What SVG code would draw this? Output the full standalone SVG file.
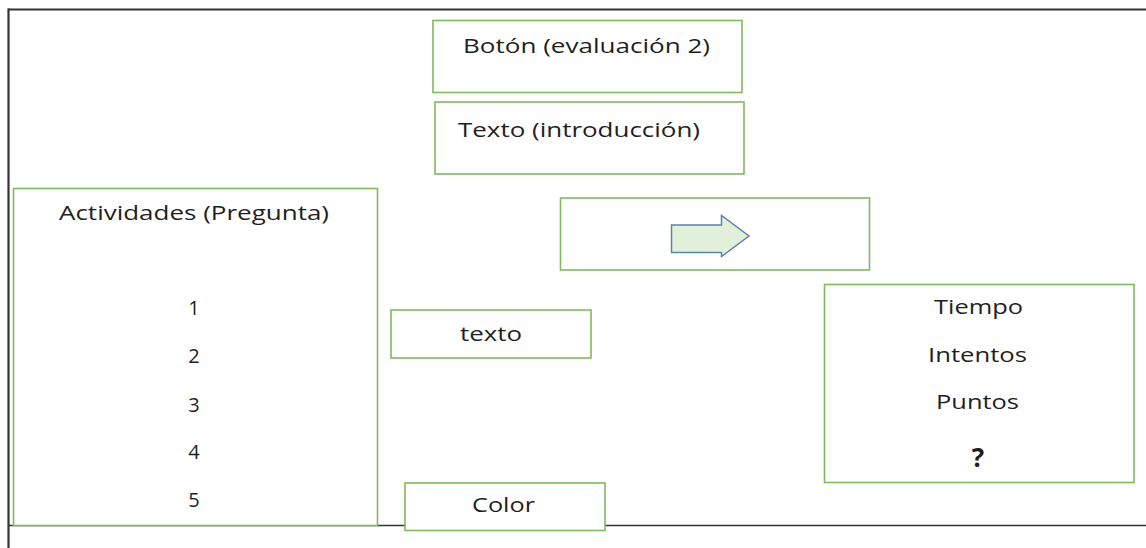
<svg xmlns="http://www.w3.org/2000/svg" width="1146" height="548" viewBox="0 0 1146 548">
  <style>
    .box { fill: #ffffff; stroke: #7fbb5c; stroke-width: 1.6; }
    .frame { stroke: #333333; fill: none; }
    .lbl { font-family: "Open Sans", "Liberation Sans", sans-serif; font-size: 20px; fill: #1f1f1f; text-anchor: middle; }
    .big { font-weight: bold; font-size: 26px; }
  </style>

  <rect x="0" y="0" width="1146" height="548" fill="#ffffff"/>

  <!-- page frame -->
  <g id="frame">
    <line class="frame" x1="8" y1="9.5" x2="1146" y2="9.5" stroke-width="2.2"/>
    <line class="frame" x1="8.5" y1="8.5" x2="8.5" y2="548" stroke-width="2.2"/>
    <line class="frame" x1="8" y1="525.5" x2="1146" y2="525.5" stroke-width="1.6"/>
  </g>

  <g id="boton">
    <rect class="box" x="433" y="20.5" width="309" height="72"/>
    <text class="lbl" x="586.5" y="53" textLength="247" lengthAdjust="spacingAndGlyphs">Botón (evaluación 2)</text>
  </g>

  <g id="introduccion">
    <rect class="box" x="435" y="102" width="309" height="72"/>
    <text class="lbl" x="579" y="137" textLength="242" lengthAdjust="spacingAndGlyphs">Texto (introducción)</text>
  </g>

  <g id="siguiente">
    <rect class="box" x="560.5" y="198" width="309" height="72"/>
    <polygon points="671.5,225 721.5,225 721.5,215.5 749,236 721.5,256.5 721.5,252.5 671.5,252.5" fill="#e2efda" stroke="#5f83a8" stroke-width="1.5" stroke-linejoin="miter"/>
  </g>

  <g id="actividades">
    <rect class="box" x="13.5" y="188.5" width="364" height="337"/>
    <text class="lbl" x="194" y="220" textLength="270" lengthAdjust="spacingAndGlyphs">Actividades (Pregunta)</text>
    <text class="lbl" x="194" y="315">1</text>
    <text class="lbl" x="194" y="363">2</text>
    <text class="lbl" x="194" y="411.5">3</text>
    <text class="lbl" x="194" y="459">4</text>
    <text class="lbl" x="194" y="507">5</text>
  </g>

  <g id="texto">
    <rect class="box" x="391" y="310" width="200" height="48"/>
    <text class="lbl" x="491" y="341" textLength="62" lengthAdjust="spacingAndGlyphs">texto</text>
  </g>

  <g id="color">
    <rect class="box" x="405" y="483" width="200" height="47.5"/>
    <text class="lbl" x="503.5" y="512" textLength="63" lengthAdjust="spacingAndGlyphs">Color</text>
  </g>

  <g id="marcador">
    <rect class="box" x="824.5" y="284.5" width="309.5" height="198"/>
    <text class="lbl" x="978.5" y="314" textLength="89" lengthAdjust="spacingAndGlyphs">Tiempo</text>
    <text class="lbl" x="977.5" y="362" textLength="99" lengthAdjust="spacingAndGlyphs">Intentos</text>
    <text class="lbl" x="977.5" y="409" textLength="83" lengthAdjust="spacingAndGlyphs">Puntos</text>
    <text class="lbl big" x="978" y="467">?</text>
  </g>

  <g id="connectors"></g>
</svg>
